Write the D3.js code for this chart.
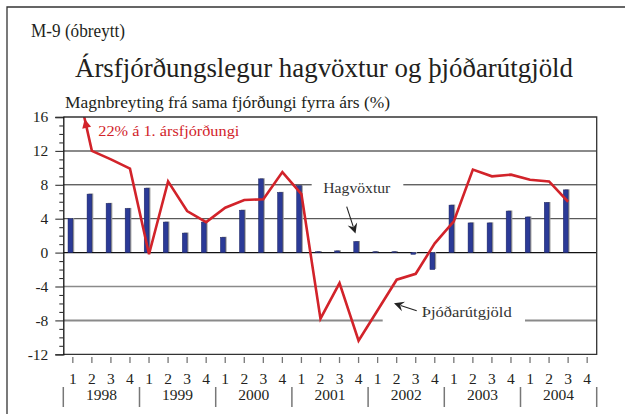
<!DOCTYPE html>
<html><head><meta charset="utf-8">
<script src="https://cdn.jsdelivr.net/npm/d3@7"></script>
<style>
html,body{margin:0;padding:0;background:#fff;}
svg{display:block;font-family:"Liberation Serif","Times New Roman",serif;}
</style></head>
<body><svg id="c" width="625" height="414"></svg>
<script>
// ---- data ----
const quarterLabels = ["1","2","3","4","1","2","3","4","1","2","3","4","1","2","3","4","1","2","3","4","1","2","3","4","1","2","3","4"];
const years = ["1998","1999","2000","2001","2002","2003","2004"];
// Hagvöxtur (GDP growth, bars)
const gdpGrowth = [4.0,6.9,5.8,5.2, 7.6,3.6,2.3,3.6, 1.8,5.0,8.7,7.1, 7.9,0.1,0.2,1.3, 0.1,0.1,-0.2,-2.0, 5.6,3.5,3.5,4.9, 4.2,5.9,7.4,null];
// Þjóðarútgjöld (domestic demand, line)
const demand = [22,12,11,9.9, -0.2,8.4,4.9,3.6, 5.3,6.2,6.3,9.5, 6.9,-7.8,-3.6,-10.4, -6.8,-3.2,-2.5,1.1, 3.7,9.8,9.0,9.2, 8.6,8.4,6.0,null];
const yTicks = [-12,-8,-4,0,4,8,12,16];

const svg = d3.select("#c");
const L = 63.3, R = 596.7, T = 117, B = 354.3;
const x = d3.scaleBand().domain(d3.range(quarterLabels.length)).range([L, R]);
const cx = i => x(i) + x.bandwidth()/2;
const y = d3.scaleLinear().domain([-12,16]).range([B, T]);
const red = "#d2232a", ink = "#231f20";

function label(txt, xx, yy, size, len, fill){
  return svg.append("text").attr("x",xx).attr("y",yy).attr("font-size",size).attr("fill",fill||ink)
    .attr("textLength",len).attr("lengthAdjust","spacingAndGlyphs").text(txt);
}

// outer frame
svg.append("path").attr("d","M7,414V7H625").attr("fill","none").attr("stroke","#333").attr("stroke-width",1.3);

// titles
label("M-9 (óbreytt)", 31, 37, 18.5, 94);
label("Ársfjórðungslegur hagvöxtur og þjóðarútgjöld", 75, 77, 27.5, 498);
label("Magnbreyting frá sama fjórðungi fyrra árs (%)", 65, 108, 16, 325);

// gridlines
const gridStyle = {"12":["#8a8a8a",2],"8":["#222",1],"4":["#333",1],"0":["#111",1.2],"-4":["#8a8a8a",1.6],"-8":["#8a8a8a",2]};
const gaps = {"8":[311.7,403.3],"-8":[382.7,525]};
Object.keys(gridStyle).forEach(k=>{
  const v = +k, yy = y(v), st = gridStyle[k];
  const segs = gaps[k] ? [[L,gaps[k][0]],[gaps[k][1],R]] : [[L,R]];
  segs.forEach(s=>svg.append("line").attr("x1",s[0]).attr("x2",s[1]).attr("y1",yy).attr("y2",yy)
    .attr("stroke",st[0]).attr("stroke-width",st[1]));
});

// bars
const bw = 4.8;
const bars = svg.append("g");
gdpGrowth.forEach((v,i)=>{
  if (v===null) return;
  const y0 = Math.min(y(v), y(0)), h = Math.max(Math.abs(y(v)-y(0)),0.8);
  bars.append("rect").attr("x",cx(i)-bw+1.4).attr("y",y0-0.6).attr("width",bw).attr("height",h)
    .attr("fill","#9b9b9b");
  bars.append("rect").attr("x",cx(i)-bw).attr("y",y0).attr("width",bw).attr("height",h)
    .attr("fill","#2b3a97").attr("stroke","#1a2360").attr("stroke-width",0.5);
});

// line (clipped) with arrow for off-scale first value
svg.append("clipPath").attr("id","clip").append("rect").attr("x",L).attr("y",T).attr("width",R-L).attr("height",B-T);
const pts = demand.map((v,i)=>[cx(i), v]).filter(d=>d[1]!==null);
svg.append("path").datum(pts).attr("clip-path","url(#clip)")
  .attr("d", d3.line().x(d=>d[0]).y(d=>y(d[1])))
  .attr("fill","none").attr("stroke",red).attr("stroke-width",2.6).attr("stroke-linejoin","miter");
// arrowhead where the line leaves the top of the plot
{
  const p0 = [pts[1][0], y(pts[1][1])], p1 = [pts[0][0], y(pts[0][1])];
  const t = (p0[1]-(T+2))/(p0[1]-p1[1]);
  const tip = [p0[0]+(p1[0]-p0[0])*t, T+2];
  const ang = Math.atan2(p1[1]-p0[1], p1[0]-p0[0]);
  const len = 9, wid = 4.5;
  const bx = tip[0]-len*Math.cos(ang), by = tip[1]-len*Math.sin(ang);
  const nx = -Math.sin(ang), ny = Math.cos(ang);
  svg.append("path").attr("d",`M${tip[0]},${tip[1]}L${bx+nx*wid},${by+ny*wid}L${bx-nx*wid},${by-ny*wid}Z`).attr("fill",red);
}
label("22% á 1. ársfjórðungi", 98.3, 136, 15.5, 141, red);

// frame
svg.append("path").attr("d",`M${L},${T}H${R}V${B}H${L}`).attr("fill","none").attr("stroke","#333").attr("stroke-width",1.3);

// y axis
const yAxis = svg.append("g").attr("transform",`translate(${L},0)`)
  .call(d3.axisLeft(y).tickValues(yTicks).tickSize(8).tickPadding(7).tickFormat(d=>String(d)));
yAxis.select(".domain").attr("stroke","#111").attr("stroke-width",1.3);
yAxis.selectAll(".tick line").attr("stroke","#333").attr("stroke-width",1.1);
yAxis.selectAll("text").attr("font-family","Liberation Serif").attr("font-size",15.5).attr("fill",ink);
const yMinor = svg.append("g").attr("transform",`translate(${L},0)`)
  .call(d3.axisLeft(y).tickValues(d3.range(-12,17,1).filter(v=>v%4!==0)).tickSize(4).tickFormat(""));
yMinor.select(".domain").remove();
yMinor.selectAll(".tick line").attr("stroke","#333").attr("stroke-width",1.1);

// x axis (quarters)
const xAxis = svg.append("g").attr("transform",`translate(0,357)`)
  .call(d3.axisBottom(x).tickSize(6).tickPadding(9.5).tickFormat(i=>quarterLabels[i]));
xAxis.select(".domain").remove();
xAxis.selectAll(".tick line").attr("stroke","#777").attr("stroke-width",1.3);
xAxis.selectAll("text").attr("font-family","Liberation Serif").attr("font-size",15.5).attr("fill",ink);

// years
years.forEach((yr,k)=>{
  const x0 = x(k*4), x1 = x(k*4+3)+x.bandwidth();
  svg.append("text").attr("x",(x0+x1)/2).attr("y",400).attr("text-anchor","middle").attr("font-size",15.5).attr("fill",ink).text(yr);
});
d3.range(years.length+1).forEach(k=>{
  const xx = k<years.length ? x(k*4) : R;
  svg.append("line").attr("x1",xx).attr("x2",xx).attr("y1",387).attr("y2",407).attr("stroke","#777").attr("stroke-width",1.5);
});

// annotations
label("Hagvöxtur", 323.3, 193, 15.5, 67, "#333");
label("Þjóðarútgjöld", 421.7, 316.7, 15.5, 90, "#333");
function arrow(x1,y1,x2,y2){
  const ang = Math.atan2(y2-y1,x2-x1), len=10, wid=5;
  const bx = x2-len*Math.cos(ang), by = y2-len*Math.sin(ang);
  const nx=-Math.sin(ang), ny=Math.cos(ang);
  svg.append("line").attr("x1",x1).attr("y1",y1).attr("x2",bx+3*Math.cos(ang)).attr("y2",by+3*Math.sin(ang)).attr("stroke","#222").attr("stroke-width",1.1);
  const mx = x2-6.5*Math.cos(ang), my = y2-6.5*Math.sin(ang);
  svg.append("path").attr("d",`M${x2},${y2}L${bx+nx*wid},${by+ny*wid}L${mx},${my}L${bx-nx*wid},${by-ny*wid}Z`).attr("fill","#222");
}
arrow(346.7,206.7,355.5,233.5);
arrow(416.7,310.7,394,303.3);
</script></body></html>
